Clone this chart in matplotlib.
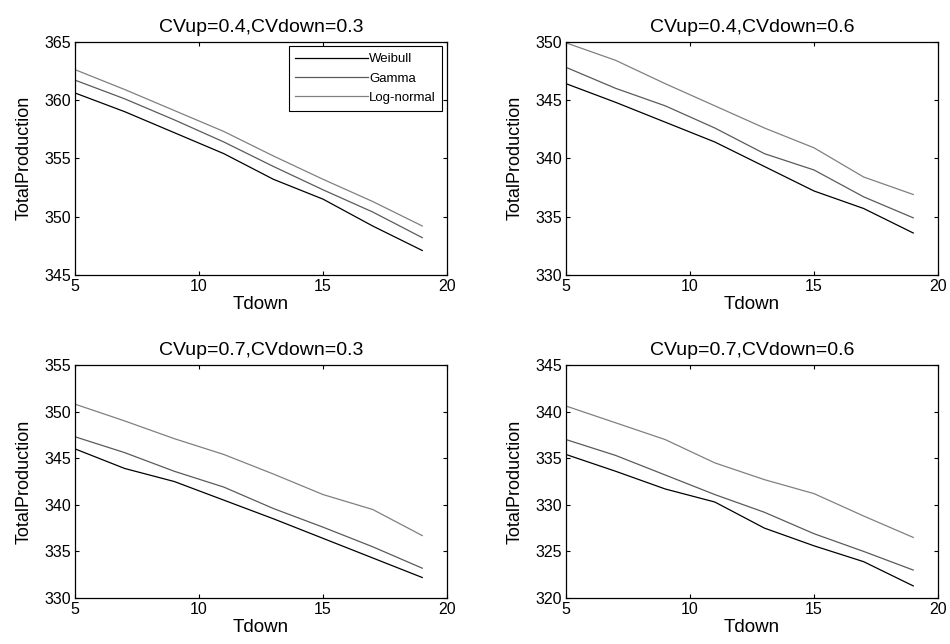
import numpy as np
import matplotlib
matplotlib.use('Agg')
import matplotlib.pyplot as plt

plt.rcParams['font.family'] = ['Liberation Sans', 'DejaVu Sans']

tdown = [5, 7, 9, 11, 13, 15, 17, 19]
series_names = ['Weibull', 'Gamma', 'Log-normal']
series_colors = ['#000000', '#5a5a5a', '#808080']

titles = ['CVup=0.4,CVdown=0.3', 'CVup=0.4,CVdown=0.6',
          'CVup=0.7,CVdown=0.3', 'CVup=0.7,CVdown=0.6']

# top-left
weibull_a = [360.6, 359.0, 357.2, 355.4, 353.2, 351.5, 349.2, 347.1]
gamma_a = [361.7, 360.1, 358.3, 356.4, 354.3, 352.3, 350.4, 348.2]
lognorm_a = [362.6, 360.9, 359.1, 357.3, 355.2, 353.2, 351.3, 349.2]
# top-right
weibull_b = [346.4, 344.8, 343.1, 341.4, 339.3, 337.2, 335.7, 333.6]
gamma_b = [347.8, 346.0, 344.5, 342.6, 340.4, 339.0, 336.7, 334.9]
lognorm_b = [349.9, 348.4, 346.4, 344.5, 342.6, 340.9, 338.4, 336.9]
# bottom-left
weibull_c = [346.0, 343.9, 342.5, 340.5, 338.5, 336.4, 334.3, 332.2]
gamma_c = [347.3, 345.6, 343.6, 341.9, 339.6, 337.6, 335.5, 333.2]
lognorm_c = [350.8, 349.0, 347.1, 345.4, 343.3, 341.1, 339.5, 336.7]
# bottom-right
weibull_d = [335.4, 333.6, 331.7, 330.3, 327.5, 325.6, 323.9, 321.3]
gamma_d = [337.0, 335.3, 333.2, 331.1, 329.2, 326.9, 325.0, 323.0]
lognorm_d = [340.6, 338.8, 337.0, 334.5, 332.7, 331.2, 328.8, 326.5]

panels = [(weibull_a, gamma_a, lognorm_a),
          (weibull_b, gamma_b, lognorm_b),
          (weibull_c, gamma_c, lognorm_c),
          (weibull_d, gamma_d, lognorm_d)]
ylims = [(345, 365), (330, 350), (330, 355), (320, 345)]

fig = plt.figure(figsize=(9.5, 6.44), dpi=100)
rects = [[0.079, 0.573, 0.3916, 0.3623],
         [0.5958, 0.573, 0.3916, 0.3623],
         [0.079, 0.0714, 0.3916, 0.3618],
         [0.5958, 0.0714, 0.3916, 0.3618]]

for i, (rect, data) in enumerate(zip(rects, panels)):
    ax = fig.add_axes(rect)
    for name, vals, clr in zip(series_names, data, series_colors):
        ax.plot(tdown, vals, color=clr, lw=0.9, label=name)
    ax.set_xlim(5, 20)
    ax.set_ylim(*ylims[i])
    ax.set_xticks([5, 10, 15, 20])
    ax.set_yticks(np.arange(ylims[i][0], ylims[i][1] + 1, 5))
    ax.tick_params(direction='in', top=True, right=True, labelsize=11.5,
                   length=3, width=0.8, pad=3)
    for s in ax.spines.values():
        s.set_linewidth(0.9)
    ax.set_title(titles[i], fontsize=14, pad=7)
    ax.set_xlabel('Tdown', fontsize=13.5, labelpad=1)
    ax.set_ylabel('TotalProduction', fontsize=13, labelpad=8)
    if i == 0:
        leg = ax.legend(loc='upper right', fontsize=9.5, handlelength=5.5,
                        handletextpad=0.1, borderaxespad=0.35, fancybox=False,
                        edgecolor='black', framealpha=1, labelspacing=0.55,
                        borderpad=0.5)
        leg.get_frame().set_linewidth(0.8)

fig.savefig('out.png', dpi=100)
